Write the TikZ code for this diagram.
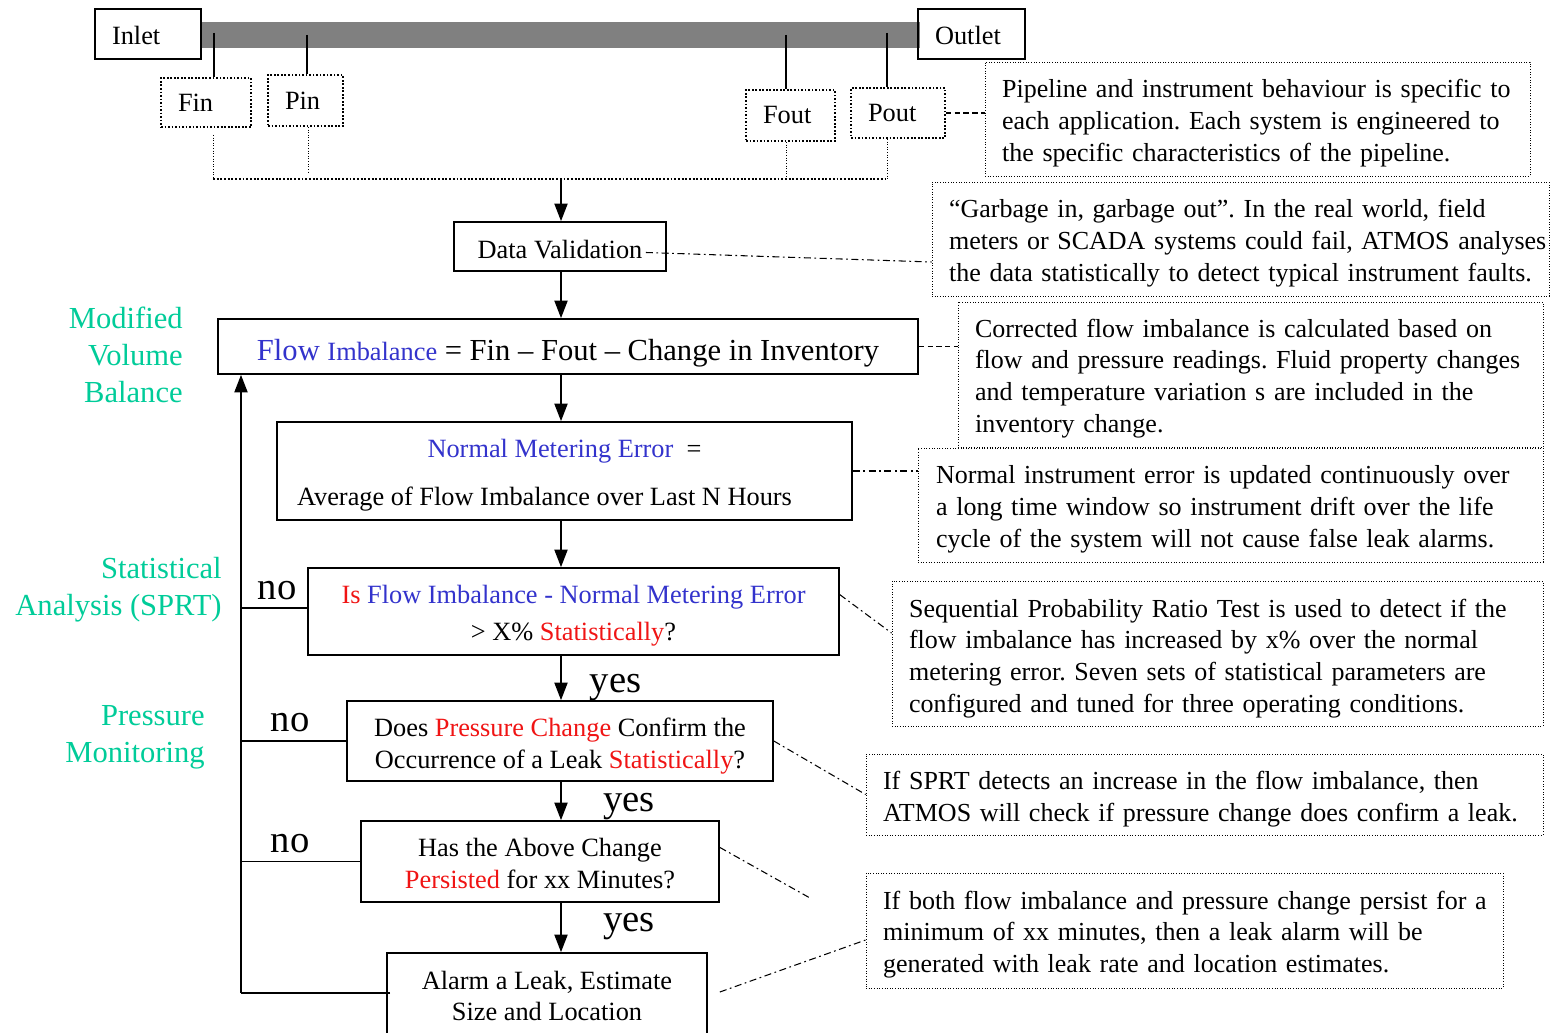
\documentclass[tikz,border=0pt]{standalone}
\usepackage{fontspec}
\setmainfont{Liberation Serif}
\usetikzlibrary{arrows.meta,calc}
\definecolor{fblue}{RGB}{51,51,204}
\definecolor{fred}{RGB}{240,20,20}
\definecolor{fgreen}{RGB}{0,204,153}
\definecolor{pipegray}{RGB}{128,128,128}
\newcommand\lne[1]{\mbox{#1}}
\newcommand\tp[1]{\rule{0pt}{#1}}
\begin{document}
\begin{tikzpicture}[x=0.02cm,y=-0.02cm,
 txt/.style={font=\fontsize{15}{18.1}\selectfont\frenchspacing},
 notetxt/.style={font=\fontsize{14.8}{18.1}\selectfont\frenchspacing},
 procbox/.style={txt, draw, line width=1pt, align=center, inner sep=0pt},
 sensorbox/.style={txt, draw, densely dotted, line width=1pt, align=left, inner xsep=0.34cm, inner ysep=0pt},
 tagbox/.style={txt, draw, line width=1pt, align=left, inner xsep=0.34cm, inner ysep=0pt},
 notebox/.style={notetxt, draw, densely dotted, line width=0.5pt, align=left, inner xsep=0.34cm, inner ysep=0pt},
 flowarrow/.style={line width=0.9pt, -{Triangle[length=10pt,width=7.5pt]}},
 loopline/.style={line width=0.9pt},
 annot/.style={line width=0.6pt, dash pattern=on 4pt off 2pt on 1pt off 2pt},
 annotdash/.style={line width=0.6pt, dash pattern=on 3pt off 2pt},
 yesno/.style={font=\fontsize{22}{26}\selectfont, inner sep=0pt, anchor=base},
 grnlabel/.style={font=\fontsize{17.4}{21}\selectfont, text=fgreen, align=right, inner sep=0pt, anchor=east}
]
\useasboundingbox[fill=white] (0,0) rectangle (1550,1033);

% pipe
\node[fill=pipegray, minimum width=14.4cm, minimum height=0.52cm, inner sep=0pt] (pipe) at (560,35) {};
\node[tagbox, minimum width=2.12cm, minimum height=1cm, text width=1.44cm] (inlet) at (148,34) {\tp{12pt}Inlet};
\node[tagbox, minimum width=2.14cm, minimum height=1cm, text width=1.46cm] (outlet) at (971.5,34) {\tp{12pt}Outlet};

% sensors
\node[sensorbox, minimum width=1.8cm, minimum height=0.98cm, text width=1.12cm] (fin) at (206,102.5) {Fin};
\node[sensorbox, minimum width=1.5cm, minimum height=1.02cm, text width=0.82cm] (pin) at (305.5,100.5) {Pin};
\node[sensorbox, minimum width=1.78cm, minimum height=1.02cm, text width=1.1cm] (fout) at (790.5,115.5) {Fout};
\node[sensorbox, minimum width=1.88cm, minimum height=1cm, text width=1.2cm] (pout) at (898,113) {Pout};

\draw[line width=1pt] (214,33) -- (fin.north -| 214,0);
\draw[line width=1pt] (307,35) -- (pin.north -| 307,0);
\draw[line width=1pt] (786,35) -- (fout.north -| 786,0);
\draw[line width=1pt] (887,33) -- (pout.north -| 887,0);

\coordinate (cl) at (213,179);
\coordinate (cr) at (887,179);
\coordinate (cm) at (561,179);
\draw[densely dotted, line width=0.5pt] ($(fin.south -| cl)+(0,7)$) -- (cl);
\draw[densely dotted, line width=0.5pt] (pin.south -| 308,0) -- (308,173);
\draw[densely dotted, line width=0.5pt] (fout.south -| 786,0) -- (786,179);
\draw[densely dotted, line width=0.5pt] (pout.south -| cr) -- (cr);
\draw[densely dotted, line width=1.1pt] (cl) -- (cr);

% notes
\node[notebox, minimum width=10.9cm, minimum height=2.28cm, text width=10.22cm] (n1) at (1257.5,119)
 {\tp{15pt}\lne{Pipeline and instrument behaviour is specific to}\\\lne{each application. Each system is engineered to}\\\lne{the specific characteristics of the pipeline.}};
\node[notebox, minimum width=12.34cm, minimum height=2.28cm, text width=11.66cm] (n2) at (1240.5,239)
 {\tp{15pt}\lne{“Garbage in, garbage out”. In the real world, field}\\\lne{meters or SCADA systems could fail, ATMOS analyses}\\\lne{the data statistically to detect typical instrument faults.}};
\node[notebox, minimum width=11.7cm, minimum height=2.9cm, text width=11.02cm] (n3) at (1250.5,374.5)
 {\tp{15pt}\lne{Corrected flow imbalance is calculated based on}\\\lne{flow and pressure readings. Fluid property changes}\\\lne{and temperature variation s are included in the}\\\lne{inventory change.}};
\node[notebox, minimum width=12.5cm, minimum height=2.28cm, text width=11.78cm, inner xsep=0.36cm] (n4) at (1230.5,505)
 {\tp{15pt}\lne{Normal instrument error is updated continuously over}\\\lne{a long time window so instrument drift over the life}\\\lne{cycle of the system will not cause false leak alarms.}};
\node[notebox, minimum width=13.02cm, minimum height=2.9cm, text width=12.34cm] (n5) at (1217.5,653.5)
 {\tp{16pt}\lne{Sequential Probability Ratio Test is used to detect if the}\\\lne{flow imbalance has increased by x\% over the normal}\\\lne{metering error. Seven sets of statistical parameters are}\\\lne{configured and tuned for three operating conditions.}};
\node[notebox, minimum width=13.54cm, minimum height=1.62cm, text width=12.86cm] (n6) at (1204.5,794.5)
 {\tp{16pt}\lne{If SPRT detects an increase in the flow imbalance, then}\\\lne{ATMOS will check if pressure change does confirm a leak.}};
\node[notebox, minimum width=12.74cm, minimum height=2.3cm, text width=12.06cm] (n7) at (1184.5,930.5)
 {\tp{15pt}\lne{If both flow imbalance and pressure change persist for a}\\\lne{minimum of xx minutes, then a leak alarm will be}\\\lne{generated with leak rate and location estimates.}};

% process boxes
\node[procbox, minimum width=4.24cm, minimum height=0.98cm] (dv) at (560,246.5) {\tp{13.8pt}Data Validation};
\node[procbox, minimum width=14cm, minimum height=1.1cm, font=\fontsize{17.4}{20}\selectfont] (fi) at (568,346.5)
 {\tp{19.5pt}{\color{fblue}Flow {\fontsize{15}{18}\selectfont Imbalance}} = Fin – Fout – Change in Inventory};
\node[procbox, minimum width=11.5cm, minimum height=1.96cm] (nm) at (564.5,471)
 {\tp{15pt}{\color{fblue}Normal Metering Error}\ \ =\\[9pt]\hspace*{-0.8cm}Average of Flow Imbalance over Last N Hours};
\node[procbox, minimum width=10.62cm, minimum height=1.74cm] (is) at (573.5,611.5)
 {\tp{15pt}{\color{fred}Is} {\color{fblue}Flow Imbalance - Normal Metering Error}\\[3pt]> X\% {\color{fred}Statistically}?};
\node[procbox, minimum width=8.52cm, minimum height=1.6cm] (dp) at (560,741)
 {\tp{16pt}Does {\color{fred}Pressure Change} Confirm the\\Occurrence of a Leak {\color{fred}Statistically}?};
\node[procbox, minimum width=7.16cm, minimum height=1.62cm] (ha) at (540,861.5)
 {\tp{13pt}Has the Above Change\\{\color{fred}Persisted} for xx Minutes?};
\node[procbox, minimum width=6.4cm, minimum height=1.72cm] (al) at (547,996)
 {Alarm a Leak, Estimate\\Size and Location};

% main arrows
\coordinate (ax) at (561,0);
\draw[flowarrow] (cm) -- (dv.north -| ax);
\draw[flowarrow] (dv.south -| ax) -- (fi.north -| ax);
\draw[flowarrow] (fi.south -| ax) -- (nm.north -| ax);
\draw[flowarrow] (nm.south -| ax) -- (is.north -| ax);
\draw[flowarrow] (is.south -| ax) -- (dp.north -| ax);
\draw[flowarrow] (dp.south -| ax) -- (ha.north -| ax);
\draw[flowarrow] (ha.south -| ax) -- (al.north -| ax);

% loop back
\coordinate (lb) at (241,993);
\draw[loopline] ($(al.west |- lb)+(4,0)$) -- (lb);
\draw[flowarrow] (lb) -- (lb |- fi.south);
\draw[loopline] ($(is.west)+(0,-3.5)$) -- ($(is.west -| lb)+(0,-3.5)$);
\draw[loopline] (dp.west) -- (dp.west -| lb);
\draw[loopline] (ha.west) -- (ha.west -| lb);

% yes / no
\node[yesno] (no1) at (277,599) {no};
\node[yesno] (no2) at (290,731) {no};
\node[yesno] (no3) at (290,852) {no};
\node[yesno] (yes1) at (615.5,692) {yes};
\node[yesno] (yes2) at (629,811) {yes};
\node[yesno] (yes3) at (629,931) {yes};

% green labels
\node[grnlabel] (lmvb) at (183,355) {Modified\\Volume\\Balance};
\node[grnlabel] (lsa) at (222,590) {Statistical\\Analysis (SPRT)};
\node[grnlabel] (lpm) at (205,737) {Pressure\\Monitoring};

% annotation connectors
\coordinate (hx) at (810,898);
\draw[annotdash] (pout.east) -- (pout.east -| n1.west);
\draw[annot] ($(dv.east)+(-21,6)$) -- ($(n2.west)+(0,23)$);
\draw[annotdash] (fi.east) -- (fi.east -| n3.west);
\draw[annot] (nm.east) -- (nm.east -| n4.west);
\draw[annot] ($(is.north east)!0.31!(is.south east)$) -- ($(n5.north west)!0.36!(n5.south west)$);
\draw[annot] (dp.east) -- (n6.west);
\draw[annot] ($(ha.north east)!0.33!(ha.south east)$) -- (hx);
\draw[annot] ($(al.east)+(12,-4)$) -- ($(n7.west)+(0,9.5)$);
\end{tikzpicture}
\end{document}
